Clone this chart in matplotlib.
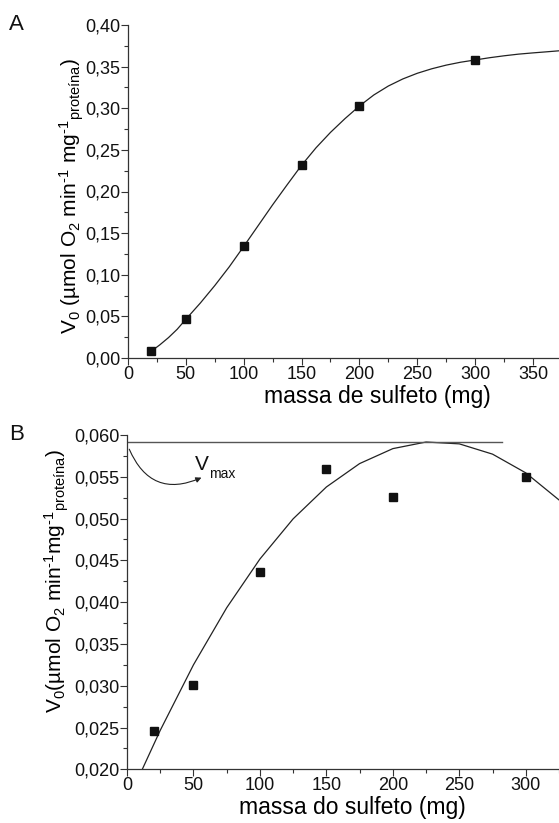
import matplotlib
matplotlib.use("Agg")
import matplotlib.pyplot as plt
from matplotlib.ticker import MultipleLocator, FixedLocator, FixedFormatter

plt.rcParams['font.family'] = ['Liberation Sans', 'DejaVu Sans']
plt.rcParams['mathtext.default'] = 'regular'

# ---------------- data: panel A ----------------
massA = [20, 50, 100, 150, 200, 300]
v0A = [0.008, 0.0465, 0.134, 0.2315, 0.3027, 0.358]
fitA_x = [20, 27.5, 35, 42.5, 50, 62.5, 75, 87.5, 100, 112.5, 125, 137.5, 150,
          162.5, 175, 187.5, 200, 212.5, 225, 237.5, 250, 262.5, 275, 287.5, 300,
          312.5, 325, 337.5, 350, 361, 372.5]
fitA_y = [0.008, 0.0158, 0.0245, 0.0345, 0.0465, 0.066, 0.087, 0.1095, 0.134,
          0.159, 0.184, 0.208, 0.2315, 0.2525, 0.271, 0.2875, 0.3027, 0.316,
          0.3267, 0.3352, 0.342, 0.3474, 0.3518, 0.3553, 0.358, 0.3607, 0.363,
          0.365, 0.3665, 0.3677, 0.369]
xticksA = [0, 50, 100, 150, 200, 250, 300, 350]
yticksA = [0.00, 0.05, 0.10, 0.15, 0.20, 0.25, 0.30, 0.35, 0.40]
ylabelsA = ['0,00', '0,05', '0,10', '0,15', '0,20', '0,25', '0,30', '0,35', '0,40']

# ---------------- data: panel B ----------------
massB = [20, 50, 100, 150, 200, 300]
v0B = [0.0246, 0.0301, 0.0436, 0.0559, 0.0526, 0.0550]
fitB_x = [10, 25, 50, 75, 100, 125, 150, 175, 200, 225, 250, 275, 300, 325]
fitB_y = [0.01948, 0.02466, 0.0325, 0.03933, 0.04516, 0.04997, 0.05378, 0.05658,
          0.05837, 0.05916, 0.05894, 0.05771, 0.05547, 0.05223]
vmax_value = 0.0592
vmax_line_x = [0, 282]
xticksB = [0, 50, 100, 150, 200, 250, 300]
yticksB = [0.020, 0.025, 0.030, 0.035, 0.040, 0.045, 0.050, 0.055, 0.060]
ylabelsB = ['0,020', '0,025', '0,030', '0,035', '0,040', '0,045', '0,050', '0,055', '0,060']

W, H = 559, 823
fig = plt.figure(figsize=(W / 100, H / 100), dpi=100)

spine_col = '#333333'
tick_fs = 13


def style(ax):
    for s in ('top', 'right'):
        ax.spines[s].set_visible(False)
    for s in ('left', 'bottom'):
        ax.spines[s].set_color(spine_col)
        ax.spines[s].set_linewidth(0.9)
    ax.tick_params(which='major', direction='out', length=5, width=0.8,
                   colors=spine_col, labelcolor='#111111', labelsize=tick_fs)
    ax.tick_params(which='minor', direction='out', length=3, width=0.8, colors=spine_col)
    ax.tick_params(axis='x', which='major', pad=0.5)
    ax.tick_params(axis='y', which='major', pad=0.5)


HY = '\u2010'  # typographic hyphen, as in the reference's "-1"

# ---------------- panel A ----------------
axA = fig.add_axes([128 / W, 1 - 358 / H, (W - 128) / W, 333 / H])
axA.plot(fitA_x, fitA_y, color='#222222', lw=0.9)
axA.plot(massA, v0A, 's', color='#111111', markersize=6)
axA.set_xlim(0, 372.5)
axA.set_ylim(0, 0.40)
axA.xaxis.set_major_locator(FixedLocator(xticksA))
axA.xaxis.set_minor_locator(MultipleLocator(25))
axA.yaxis.set_major_locator(FixedLocator(yticksA))
axA.yaxis.set_major_formatter(FixedFormatter(ylabelsA))
axA.yaxis.set_minor_locator(MultipleLocator(0.025))
style(axA)
axA.set_xlabel('massa de sulfeto (mg)', fontsize=16.5)
axA.xaxis.set_label_coords((377 - 128) / 431, -0.081)
axA.set_ylabel('V$_0$ (µmol O$_2$ min$^{' + HY + '1}$ mg$^{' + HY + '1}$$_{proteína}$)',
               fontsize=15)
axA.yaxis.set_label_coords(-0.0975, 0.4865)

# ---------------- panel B ----------------
axB = fig.add_axes([127 / W, 1 - 769.3 / H, (W - 127) / W, 334.3 / H])
axB.plot(fitB_x, fitB_y, color='#222222', lw=0.9)
axB.plot(vmax_line_x, [vmax_value, vmax_value], color='#555555', lw=1.0)
axB.plot(massB, v0B, 's', color='#111111', markersize=6)
axB.set_xlim(0, 325)
axB.set_ylim(0.020, 0.060)
axB.xaxis.set_major_locator(FixedLocator(xticksB))
axB.xaxis.set_minor_locator(MultipleLocator(25))
axB.yaxis.set_major_locator(FixedLocator(yticksB))
axB.yaxis.set_major_formatter(FixedFormatter(ylabelsB))
axB.yaxis.set_minor_locator(MultipleLocator(0.0025))
style(axB)
axB.set_xlabel('massa do sulfeto (mg)', fontsize=16.5)
axB.xaxis.set_label_coords((352 - 127) / 432, -0.080)
axB.set_ylabel('V$_0$(µmol O$_2$ min$^{' + HY + '1}$mg$^{' + HY + '1}$$_{proteína}$)',
               fontsize=15)
axB.yaxis.set_label_coords(-0.13, 0.563)

axB.annotate('', xy=(56, 0.0549), xytext=(1.7, 0.0583),
             arrowprops=dict(arrowstyle='-|>', connectionstyle='arc3,rad=0.5',
                             lw=0.8, color='#222222', mutation_scale=8,
                             shrinkA=0, shrinkB=0))
axB.text(51, 0.0558, 'V', fontsize=15, va='baseline', color='#111111')
axB.text(61.5, 0.0549, 'max', fontsize=10, va='baseline', color='#111111')

fig.text(16 / W, 1 - 25 / H, 'A', ha='center', va='center', fontsize=16, color='#111111')
fig.text(17 / W, 1 - 435 / H, 'B', ha='center', va='center', fontsize=16, color='#111111')

fig.savefig('out.png', dpi=100)
